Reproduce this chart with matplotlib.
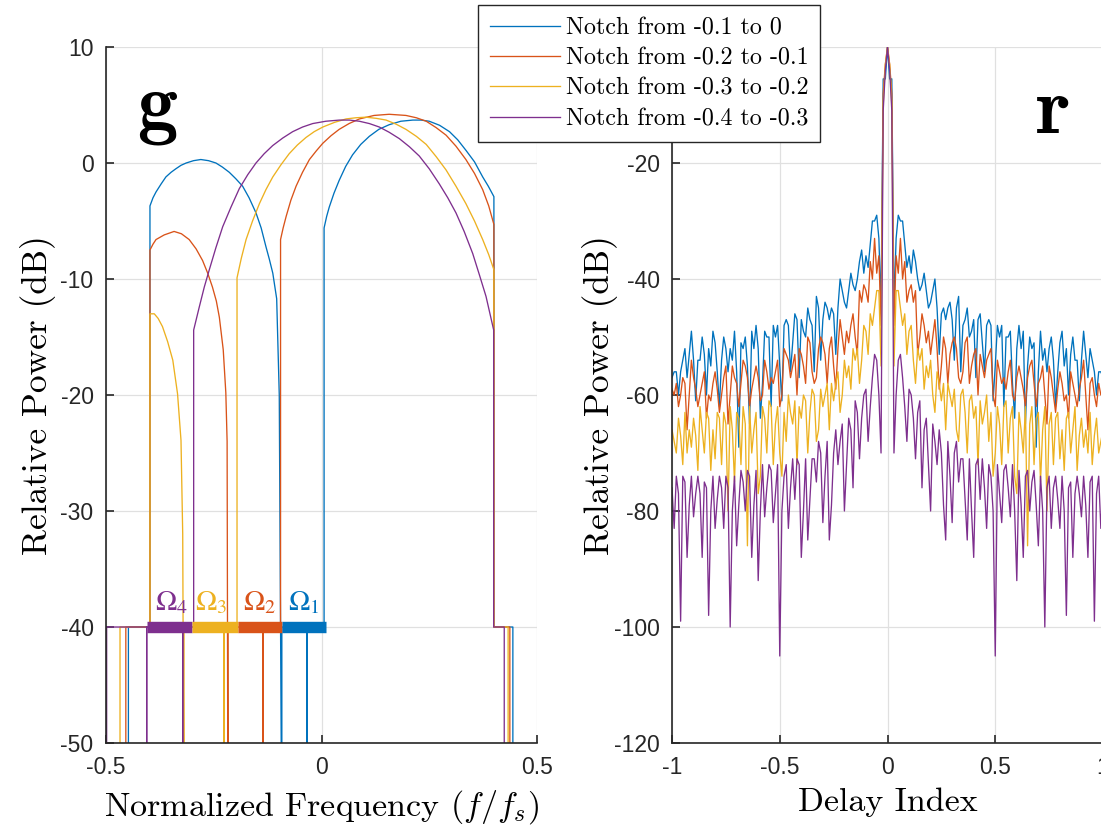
import numpy as np
import matplotlib.pyplot as plt

plt.rcParams['font.family'] = 'Liberation Sans'
plt.rcParams['mathtext.fontset'] = 'cm'
plt.rcParams['axes.unicode_minus'] = False

colors = ['#0072BD', '#D95319', '#EDB120', '#7E2F8E']
labels = ['Notch from -0.1 to 0', 'Notch from -0.2 to -0.1',
          'Notch from -0.3 to -0.2', 'Notch from -0.4 to -0.3']

# --- panel g: spectra (-60 = below the axis floor)
freq_blue = [-0.5, -0.448, -0.448, -0.398, -0.398, -0.391, -0.384, -0.372, -0.361, -0.349,
             -0.338, -0.326, -0.314, -0.297, -0.280, -0.262, -0.245, -0.230, -0.214, -0.199,
             -0.183, -0.168, -0.152, -0.140, -0.129, -0.121, -0.113, -0.104, -0.098, -0.092,
             -0.092, -0.034, -0.034, -0.034, 0.006, 0.006, 0.012, 0.018, 0.029, 0.041,
             0.056, 0.072, 0.091, 0.111, 0.133, 0.157, 0.184, 0.212, 0.231, 0.250,
             0.274, 0.297, 0.316, 0.335, 0.355, 0.374, 0.387, 0.4, 0.4, 0.444,
             0.444, 0.5]
pow_blue = [-60, -60, -40, -40, -3.7, -3.0, -2.5, -1.8, -1.2, -0.8,
            -0.5, -0.2, 0.0, 0.2, 0.3, 0.2, 0.0, -0.35, -0.8, -1.35,
            -2.0, -3.0, -4.3, -5.6, -7.2, -8.3, -9.5, -11.7, -20, -60,
            -40, -40, -60, -40, -40, -5.6, -4.6, -3.8, -2.6, -1.5,
            -0.3, 0.7, 1.6, 2.3, 2.9, 3.3, 3.6, 3.7, 3.7, 3.6,
            3.25, 2.7, 2.0, 1.1, 0.1, -1.2, -2.0, -2.9, -40, -40,
            -60, -60]

freq_orange = [-0.5, -0.454, -0.454, -0.398, -0.398, -0.391, -0.384, -0.365, -0.342, -0.325,
               -0.307, -0.291, -0.276, -0.264, -0.253, -0.244, -0.237, -0.228, -0.222, -0.219,
               -0.217, -0.217, -0.136, -0.136, -0.136, -0.095, -0.095, -0.089, -0.082, -0.071,
               -0.059, -0.044, -0.028, -0.012, 0.003, 0.022, 0.041, 0.064, 0.088, 0.122,
               0.157, 0.196, 0.220, 0.243, 0.266, 0.289, 0.312, 0.335, 0.355, 0.374,
               0.388, 0.4, 0.4, 0.437, 0.437, 0.5]
pow_orange = [-60, -60, -40, -40, -7.5, -7.0, -6.6, -6.2, -5.9, -6.1,
              -6.6, -7.4, -8.4, -9.5, -10.7, -11.9, -13.3, -16.1, -19.8, -24,
              -60, -40, -40, -60, -40, -40, -6.6, -5.6, -4.6, -3.2,
              -2.0, -0.8, 0.3, 1.05, 1.7, 2.35, 2.9, 3.4, 3.8, 4.1,
              4.2, 4.1, 3.9, 3.6, 3.05, 2.4, 1.45, 0.3, -0.9, -2.3,
              -3.7, -5.3, -40, -40, -60, -60]

freq_yellow = [-0.5, -0.4675, -0.4675, -0.398, -0.398, -0.388, -0.379, -0.369, -0.357, -0.345,
               -0.334, -0.326, -0.322, -0.319, -0.319, -0.226, -0.226, -0.226, -0.196, -0.196,
               -0.186, -0.175, -0.160, -0.144, -0.129, -0.113, -0.094, -0.075, -0.056, -0.036,
               -0.017, 0.003, 0.030, 0.057, 0.080, 0.103, 0.127, 0.150, 0.173, 0.196,
               0.220, 0.243, 0.266, 0.289, 0.312, 0.335, 0.355, 0.374, 0.388, 0.4,
               0.4, 0.433, 0.433, 0.5]
pow_yellow = [-60, -60, -40, -40, -13.0, -13.0, -13.4, -14.1, -15.4, -17.0,
              -19.9, -23.9, -32, -60, -40, -40, -60, -40, -40, -9.9,
              -8.2, -6.6, -5.0, -3.5, -2.3, -1.2, -0.15, 0.8, 1.55, 2.2,
              2.7, 3.1, 3.5, 3.8, 3.9, 3.95, 3.85, 3.7, 3.35, 2.9,
              2.3, 1.6, 0.55, -0.6, -2.0, -3.5, -5.0, -6.6, -7.9, -9.2,
              -40, -40, -60, -60]

freq_purple = [-0.5, -0.4985, -0.4985, -0.4056, -0.4056, -0.4056, -0.322, -0.322, -0.322, -0.2966,
               -0.2966, -0.2835, -0.272, -0.2603, -0.245, -0.2293, -0.210, -0.1906, -0.171, -0.152,
               -0.133, -0.1133, -0.090, -0.0669, -0.044, -0.0204, 0.010, 0.0414, 0.0646, 0.0878,
               0.111, 0.1342, 0.157, 0.1806, 0.204, 0.2269, 0.250, 0.2733, 0.293, 0.312,
               0.331, 0.3508, 0.366, 0.3817, 0.3995, 0.3995, 0.424, 0.424, 0.5]
pow_purple = [-60, -60, -40, -40, -60, -40, -40, -60, -40, -40,
              -14.4, -12.4, -10.7, -9.2, -7.3, -5.5, -3.8, -2.2, -1.0, 0.0,
              0.8, 1.5, 2.15, 2.7, 3.1, 3.4, 3.6, 3.7, 3.7, 3.6,
              3.4, 3.1, 2.65, 2.1, 1.4, 0.6, -0.5, -1.8, -3.0, -4.3,
              -5.9, -7.8, -9.6, -11.5, -14.4, -40, -40, -60, -60]

band_lo = [-0.405, -0.300, -0.194, -0.092]
band_hi = [-0.300, -0.194, -0.092, 0.010]
band_names = [r'$\Omega_4$', r'$\Omega_3$', r'$\Omega_2$', r'$\Omega_1$']
band_text_x = [-0.348, -0.255, -0.144, -0.042]
band_colors = [colors[3], colors[2], colors[1], colors[0]]

# --- panel r: correlation magnitude for delays 0 .. 1 (step 0.01), symmetric about 0
blue_r = [0, -5.5, -5.5, -45, -33, -29, -30, -30, -34, -38,
          -36, -39, -35, -37, -40, -42, -41, -39, -42, -45,
          -44, -42, -40, -45, -53, -46, -45, -47, -45, -44,
          -47, -54, -45, -43, -56, -48, -47, -45, -50, -49,
          -47, -57, -47, -46, -51, -56, -48, -47, -48, -61,
          -55, -48, -50, -48, -62, -50, -50, -49, -58, -64,
          -52, -48, -52, -49, -65, -55, -50, -52, -51, -69,
          -56, -49, -54, -52, -56, -52, -50, -54, -62, -56,
          -51, -49, -55, -52, -60, -53, -50, -54, -54, -61,
          -54, -49, -53, -57, -52, -54, -56, -60, -56, -56,
          -57]
orange_r = [0, -3, -8, -48, -36, -39, -33, -40, -37, -44,
            -42, -41, -44, -42, -53, -50, -46, -48, -51, -49,
            -53, -50, -47, -52, -59, -55, -50, -52, -58, -53,
            -51, -50, -52, -57, -58, -56, -51, -50, -58, -55,
            -53, -52, -60, -53, -55, -57, -54, -53, -52, -60,
            -62, -54, -56, -58, -57, -59, -56, -54, -60, -61,
            -57, -55, -57, -59, -62, -57, -55, -54, -58, -62,
            -58, -57, -55, -60, -65, -55, -57, -60, -63, -59,
            -56, -58, -61, -60, -64, -56, -58, -60, -62, -59,
            -57, -54, -60, -66, -58, -57, -60, -62, -58, -60,
            -59]
yellow_r = [0, -3, -10, -55, -42, -42, -45, -48, -46, -53,
            -49, -48, -54, -58, -52, -54, -52, -59, -55, -57,
            -54, -60, -63, -56, -58, -61, -58, -66, -58, -60,
            -62, -59, -66, -68, -60, -59, -63, -70, -61, -60,
            -64, -62, -72, -61, -65, -63, -60, -68, -63, -74,
            -70, -62, -65, -72, -62, -61, -70, -64, -62, -74,
            -77, -63, -66, -70, -62, -86, -65, -62, -72, -64,
            -63, -75, -66, -62, -80, -65, -63, -72, -64, -63,
            -71, -66, -73, -64, -63, -70, -66, -62, -73, -67,
            -64, -69, -66, -70, -63, -72, -67, -64, -70, -68,
            -66]
purple_r = [0, -4, -11, -70, -60, -54, -53, -57, -62, -68,
            -59, -60, -64, -71, -63, -61, -76, -66, -64, -72,
            -80, -65, -68, -72, -66, -70, -79, -85, -68, -74,
            -82, -70, -68, -75, -71, -71, -78, -85, -71, -80,
            -88, -72, -71, -78, -71, -76, -83, -72, -74, -80,
            -105, -72, -77, -82, -73, -72, -76, -81, -72, -80,
            -92, -73, -79, -88, -74, -73, -80, -75, -73, -79,
            -86, -74, -80, -100, -76, -74, -83, -76, -74, -78,
            -83, -74, -80, -98, -76, -75, -88, -77, -74, -77,
            -81, -74, -79, -88, -75, -74, -99, -77, -74, -83,
            -76]

lag = np.arange(len(blue_r)) / 100
lag_full = np.concatenate([-lag[:0:-1], lag])


def mirror(v):
    v = np.array(v, dtype=float)
    return np.concatenate([v[:0:-1], v])


fig = plt.figure(figsize=(11.01, 8.26), dpi=100)
ax1 = fig.add_axes([106 / 1101, 83 / 826, 431 / 1101, 696 / 826])
ax2 = fig.add_axes([672 / 1101, 83 / 826, 431 / 1101, 696 / 826])

for ax in (ax1, ax2):
    ax.spines[['top', 'right']].set_visible(False)
    for s in ('left', 'bottom'):
        ax.spines[s].set_color('#262626')
        ax.spines[s].set_linewidth(1.2)
    ax.tick_params(direction='in', length=6, width=1.2, color='#262626',
                   labelsize=16.5, labelcolor='#262626', pad=9)
    ax.grid(True, color='#e0e0e0', lw=0.9)
    ax.set_axisbelow(True)

# panel g
lw = 0.95
ax1.plot(freq_blue, pow_blue, color=colors[0], lw=lw)
ax1.plot(freq_orange, pow_orange, color=colors[1], lw=lw)
ax1.plot(freq_yellow, pow_yellow, color=colors[2], lw=lw)
ax1.plot(freq_purple, pow_purple, color=colors[3], lw=lw)
for lo, hi, c, name, tx in zip(band_lo, band_hi, band_colors, band_names, band_text_x):
    ax1.plot([lo, hi], [-40, -40], color=c, lw=8.2, solid_capstyle='butt', zorder=4)
    ax1.text(tx, -38.6, name, color=c, fontsize=20.5, ha='center', va='baseline',
             math_fontfamily='stix')
ax1.set_xlim(-0.5, 0.5)
ax1.set_ylim(-50, 10)
ax1.set_xticks([-0.5, 0, 0.5])
ax1.set_xticklabels(['-0.5', '0', '0.5'])
ax1.set_yticks([10, 0, -10, -20, -30, -40, -50])
ax1.set_xlabel(r'Normalized Frequency ($f/f_s$)', fontfamily='cmr10', fontsize=24.5)
ax1.set_ylabel('Relative Power (dB)', fontfamily='cmr10', fontsize=25.5)
ax1.xaxis.set_label_coords(0.5, -0.064)
ax1.yaxis.set_label_coords(-0.117, 0.5)
ax1.text(-0.382, 3.0, 'g', fontfamily='cmb10', fontsize=58, ha='center', va='baseline')

# panel r
handles = []
for vals, c, lab in zip([blue_r, orange_r, yellow_r, purple_r], colors, labels):
    h, = ax2.plot(lag_full, mirror(vals), color=c, lw=lw, label=lab)
    handles.append(h)
ax2.set_xlim(-1, 1)
ax2.set_ylim(-120, 0)
ax2.set_xticks([-1, -0.5, 0, 0.5, 1])
ax2.set_xticklabels(['-1', '-0.5', '0', '0.5', '1'])
ax2.set_yticks([0, -20, -40, -60, -80, -100, -120])
ax2.set_yticklabels(['', '-20', '-40', '-60', '-80', '-100', '-120'])
ax2.set_xlabel('Delay Index', fontfamily='cmr10', fontsize=24.5)
ax2.set_ylabel('Relative Power (dB)', fontfamily='cmr10', fontsize=25.5)
ax2.xaxis.set_label_coords(0.5, -0.064)
ax2.yaxis.set_label_coords(-0.125, 0.5)
ax2.text(0.769, -14.9, 'r', fontfamily='cmb10', fontsize=58, ha='center', va='baseline')

leg = fig.legend(handles, labels, loc='upper left', bbox_to_anchor=(478 / 1101, 821 / 826),
                 prop={'family': 'cmr10', 'size': 17.3}, fancybox=False, framealpha=1,
                 edgecolor='#262626', borderaxespad=0, handlelength=2.9,
                 handletextpad=0.25, labelspacing=0.34, borderpad=0.5)
leg.get_frame().set_linewidth(1.0)

fig.savefig('out.png', dpi=100)
